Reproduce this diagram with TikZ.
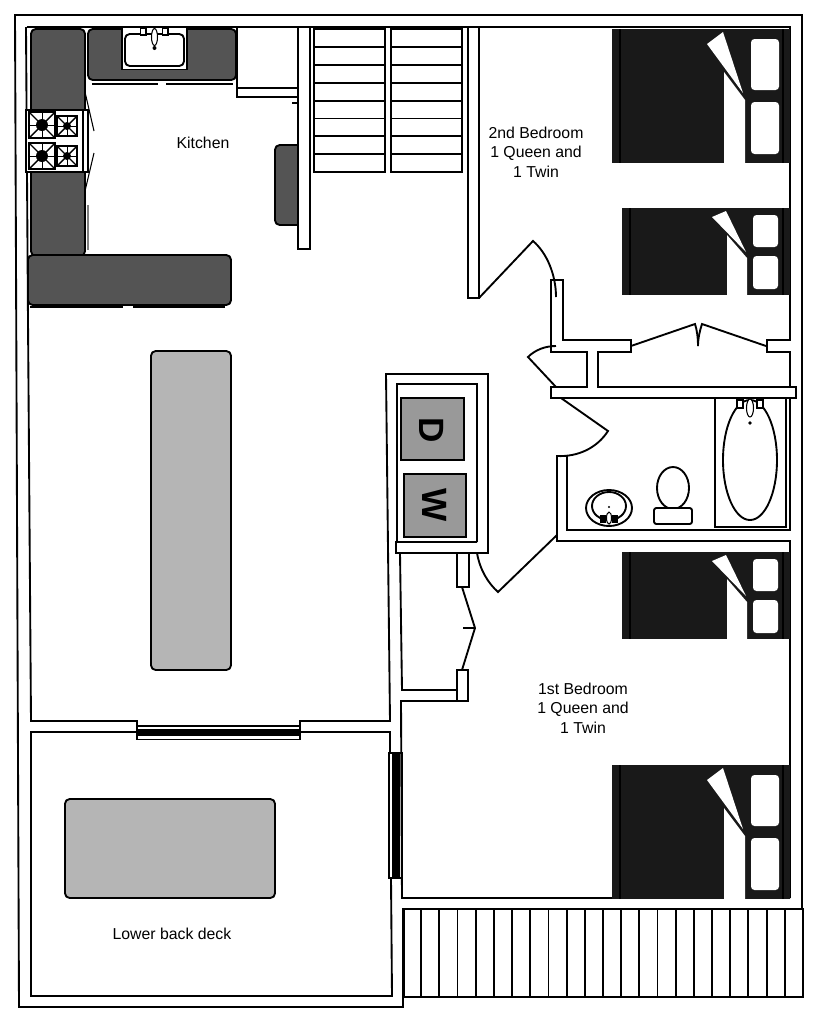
\documentclass[tikz,border=0pt]{standalone}
\usepackage{fontspec}
\setmainfont{Liberation Sans}
\usetikzlibrary{calc}
\definecolor{counterdark}{gray}{0.33}
\definecolor{bedblack}{gray}{0.1}
\definecolor{tablegray}{gray}{0.71}
\definecolor{washergray}{gray}{0.6}
\tikzset{
	wallline/.style={draw=black, line width=1.6pt, line join=miter},
	thinline/.style={draw=black, line width=0.9pt},
	counter/.style={draw=black, fill=counterdark, line width=1.6pt, rounded corners=4pt},
	tabletop/.style={draw=black, fill=tablegray, line width=1.6pt, rounded corners=4pt},
	machine/.style={draw=black, fill=washergray, line width=1.4pt},
	roomlabel/.style={align=center, font=\fontsize{13.5}{16.6}\selectfont},
	machinelabel/.style={font=\fontsize{30}{30}\selectfont\bfseries, rotate=-90}
}
\begin{document}
\begin{tikzpicture}[x=0.03cm, y=-0.03cm]
	\useasboundingbox (0,0) rectangle (825,1024);
	% outer outline and top wall
	\draw [wallline] (802,909) -- (802,15) -- (15,15) -- (19,1007) -- (403,1007) -- (403,997);
	\draw [wallline] (27,27) -- (790,27) -- (790,340) -- (767,340) -- (767,352) -- (790,352) -- (790,387);
	\draw [wallline] (26,27) -- (28,320) -- (31,721) -- (137,721) -- (137,727);
	\draw [wallline] (300,727) -- (300,721) -- (390,721) -- (386,374) -- (488,374) -- (488,553) -- (396,553) -- (396,542) -- (477,542);
	\draw [thinline] (477,542) -- (477,384) -- (397,384) -- (397,542);
	% deck
	\draw [wallline] (137,732) -- (31,732) -- (31,996) -- (392,996) -- (391,878);
	\draw [wallline] (300,732) -- (390,732) -- (390,753);
	\draw [wallline, fill=white] (137,726) rectangle (300,739.5);
	\fill (137,728.5) rectangle (300,736);
	\draw [wallline, fill=white] (389,753) rectangle (402,878);
	\fill (392,753) rectangle (399.5,877);
	\draw [tabletop] (65,799) rectangle (275,898);
	\node (deck) [roomlabel] at (172,934) {Lower back deck};
	% deck stairs
	\draw [wallline] (403,909) rectangle (803,997);
	\draw [line width=2.4pt] (403.5,909) -- (403.5,997);
	\foreach \i in {1,...,21} {
		\draw [wallline] ({403+\i*18.18},909) -- ({403+\i*18.18},997);
	}
	% kitchen counters
	\draw [counter] (31,29) rectangle (85,115);
	\draw [counter] (31,168) rectangle (85,256);
	\draw [counter] (88,29) rectangle (236,80);
	\draw [counter] (28,255) rectangle (231,305);
	\draw [counter] (298,145) -- (275,145) -- (275,225) -- (298,225);
	\draw [thinline] (92,84) -- (158,84) (166,84) -- (233,84);
	\draw [thinline] (30,307) -- (123,307) (133,307) -- (225,307);
	\draw [draw=gray, line width=2pt] (88,205) -- (88,250);
	% sink
	\draw [wallline, fill=white] (122,27) rectangle (187,69.5);
	\draw [wallline, rounded corners=4pt] (125,34) rectangle (184,66);
	\draw [thinline, fill=white] (140.5,28) rectangle (146,35);
	\draw [thinline, fill=white] (162.5,28) rectangle (168,35);
	\draw [thinline, fill=white] (154.5,37) ellipse (3 and 8.5);
	\fill (154.5,48) circle (2);
	% stove
	\draw [wallline, fill=white] (26,110) rectangle (88,172);
	\draw [line width=2pt] (83,110) -- (83,172);
	\draw [thinline] (85,92) -- (94,131) (85,191) -- (94,153);
	\foreach \cx/\cy/\half/\rad in {42/125/13/6, 67/126/10/4, 42/156/13/6, 67/156/10/4} {
		\draw [line width=1.2pt] ($(\cx,\cy)+(-\half,-\half)$) rectangle ($(\cx,\cy)+(\half,\half)$);
		\draw [line width=1.2pt] ($(\cx,\cy)+(-\half,-\half)$) -- ($(\cx,\cy)+(\half,\half)$);
		\draw [line width=1.2pt] ($(\cx,\cy)+(-\half,\half)$) -- ($(\cx,\cy)+(\half,-\half)$);
		\draw [line width=0.5pt] ($(\cx,\cy)+(-\half,0)$) -- ($(\cx,\cy)+(\half,0)$);
		\draw [line width=0.5pt] ($(\cx,\cy)+(0,-\half)$) -- ($(\cx,\cy)+(0,\half)$);
		\fill (\cx,\cy) circle (\rad);
	}
	\node (kitchen) [roomlabel] at (203,143) {Kitchen};
	% pantry and stair wall
	\draw [wallline] (237,27) -- (237,97) -- (298,97);
	\draw [thinline] (237,88) -- (298,88);
	\draw [thinline] (292,103) -- (298,103);
	\draw [wallline] (298,27) -- (298,249) -- (310,249) -- (310,27);
	\foreach \sx in {314,391} {
		\draw [wallline] (\sx,29) rectangle ({\sx+71},172);
		\foreach \j in {1,...,7} {
			\draw [wallline] (\sx,{29+\j*17.9}) -- ({\sx+71},{29+\j*17.9});
		}
	}
	% island
	\draw [tabletop] (151,351) rectangle (231,670);
	% laundry
	\draw [machine] (401,398) rectangle (464,460);
	\draw [machine] (404,474) rectangle (466,537);
	\node (dryer) [machinelabel] at (432,430) {D};
	\node (washer) [machinelabel] at (435,505) {W};
	\draw [wallline] (400,553) -- (402,690) -- (457,690);
	\draw [wallline] (457,553) -- (457,587) -- (469,587) -- (469,553);
	\draw [wallline] (462,587) -- (475,628) -- (462,670);
	\draw [thinline] (463,628) -- (475,628);
	\draw [wallline] (457,670) rectangle (468,701);
	\draw [wallline] (457,701) -- (401,701) -- (402,898) -- (790,898);
	\draw [wallline] (790,898) -- (790,541) -- (557,541) -- (557,456) -- (567,456) -- (567,530) -- (790,530) -- (790,398);
	% doors
	\draw [wallline] (477,553) .. controls (480,570) and (488,583) .. (498,592) -- (557,535);
	\draw [wallline] (561,398) -- (608,431) .. controls (597,448) and (578,457) .. (557,456);
	\draw [wallline] (556,387) -- (528,357) .. controls (535,350) and (545,346) .. (556,346);
	\draw [wallline] (479,298) -- (533,241) .. controls (547,253) and (556,275) .. (556,297);
	% second bedroom and hall walls
	\draw [wallline] (468,27) -- (468,298) -- (479,298) -- (479,27);
	\draw [wallline] (563,280) -- (551,280) -- (551,352) -- (587,352) -- (587,387) -- (551,387) -- (551,398) -- (796,398) -- (796,387) -- (598,387) -- (598,352) -- (631,352) -- (631,340) -- (563,340) -- cycle;
	\draw [wallline] (631,346) -- (695,324) .. controls (697,330) and (698,338) .. (698,346);
	\draw [wallline] (698,346) .. controls (698,338) and (700,330) .. (702,324) -- (766,346);
	% bathroom
	\draw [thinline] (715,398) rectangle (786,527);
	\draw [wallline] (750,460) ellipse (27 and 60);
	\draw [thinline, fill=white] (737,400) rectangle (743,408);
	\draw [thinline, fill=white] (757,400) rectangle (763,408);
	\draw [thinline, fill=white] (750,408) ellipse (3.5 and 9);
	\fill (750,423) circle (1.8);
	\draw [wallline, fill=white] (673,488) ellipse (16 and 21);
	\draw [wallline, fill=white, rounded corners=2pt] (654,508) rectangle (692,524);
	\draw [wallline] (609,508) ellipse (23 and 18);
	\draw [wallline] (609,506) ellipse (17 and 14);
	\draw [thinline, fill=black] (601,516) rectangle (605,522);
	\draw [thinline, fill=black] (613,516) rectangle (617,522);
	\draw [thinline, fill=white] (609,518) ellipse (2.5 and 6);
	\fill (609,507) circle (1.2);
	% beds, queen size
	\foreach \dy in {0,736} {
		\begin{scope}[shift={(0,\dy)}]
			\fill [bedblack] (612,29) rectangle (790,163);
			\draw [line width=1pt] (620,29) -- (620,163) (783,29) -- (783,163);
			\fill [white] (724,72) -- (745,100) -- (745,163) -- (724,163) -- cycle;
			\fill [white] (707,44) -- (723,32) -- (743,93) -- cycle;
			\fill [white, rounded corners=3pt] (751,39) rectangle (779,90);
			\fill [white, rounded corners=3pt] (751,102) rectangle (779,154);
		\end{scope}
	}
	% beds, twin size
	\foreach \dy in {0,344} {
		\begin{scope}[shift={(0,\dy)}]
			\fill [bedblack] (622,208) rectangle (790,295);
			\draw [line width=1pt] (630,208) -- (630,295) (783,208) -- (783,295);
			\fill [white] (727,235) -- (747,258) -- (747,295) -- (727,295) -- cycle;
			\fill [white] (712,217) -- (726,211) -- (746,252) -- cycle;
			\fill [white, rounded corners=3pt] (753,215) rectangle (778,247);
			\fill [white, rounded corners=3pt] (753,256) rectangle (778,289);
		\end{scope}
	}
	\node (bedroomtwo) [roomlabel] at (536,152) {2nd Bedroom\\1 Queen and\\1 Twin};
	\node (bedroomone) [roomlabel] at (583,708) {1st Bedroom\\1 Queen and\\1 Twin};
\end{tikzpicture}
\end{document}
